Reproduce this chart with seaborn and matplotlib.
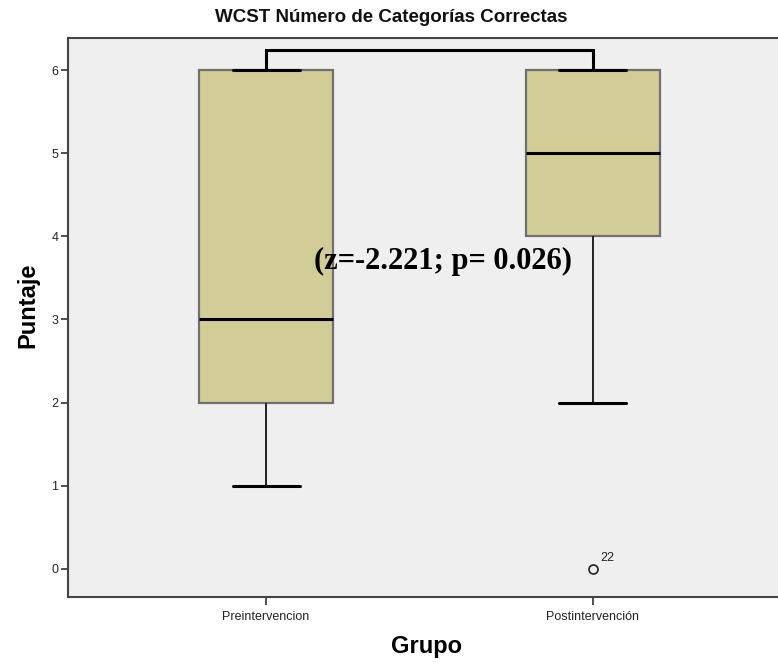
import matplotlib
matplotlib.use("Agg")
import matplotlib.pyplot as plt
import seaborn as sns
import pandas as pd

# Data (raw scores reproducing the box statistics)
groups = ["Preintervencion", "Postintervención"]
pre_scores = [1, 1, 2, 2, 2, 3, 3, 3, 4, 5, 6, 6, 6, 6, 6]
post_scores = [0, 2, 3, 4, 4, 4, 5, 5, 5, 5, 6, 6, 6, 6, 6]
outlier_label = "22"
yticks = [0, 1, 2, 3, 4, 5, 6]
title = "WCST Número de Categorías Correctas"
stat_text = "(z=-2.221; p= 0.026)"

df = pd.DataFrame({
    "Grupo": [groups[0]] * len(pre_scores) + [groups[1]] * len(post_scores),
    "Puntaje": pre_scores + post_scores,
})

sns.set_theme(style="white")
plt.rcParams["font.family"] = ["Liberation Sans", "DejaVu Sans"]

fig = plt.figure(figsize=(7.78, 6.64), dpi=100)
ax = fig.add_axes([68 / 778, 1 - 597 / 664, 1 - 68 / 778 + 0.01, (597 - 38) / 664])
ax.set_facecolor("#EFEFEF")

sns.boxplot(
    data=df, x="Grupo", y="Puntaje", order=groups, ax=ax,
    width=0.41, color="#D2CD96", saturation=1, whis=1.5,
    linecolor="#222222", linewidth=1.2,
    medianprops=dict(color="black", linewidth=2.2),
    whiskerprops=dict(color="#222222", linewidth=1.4),
    capprops=dict(color="black", linewidth=2.2),
    boxprops=dict(edgecolor="#707070", linewidth=1.6),
    flierprops=dict(marker="o", markersize=6.5, markerfacecolor="none",
                    markeredgecolor="#222222", markeredgewidth=1.2),
)

ax.set_xlim(-0.606, 1.566 + 0.01 * 778 / 327)
ax.set_ylim(-0.337, 6.385)
ax.set_yticks(yticks)
ax.set_yticklabels([str(t) for t in yticks])

# Outlier case label
ax.annotate(outlier_label, xy=(1, min(post_scores)), xytext=(5, 6),
            textcoords="offset points", fontsize=9, color="#222222")

# Significance bracket
top = max(max(pre_scores), max(post_scores))
ax.plot([0, 0, 1, 1], [top, top + 0.24, top + 0.24, top], color="black",
        linewidth=2.2, solid_joinstyle="miter", zorder=5)
ax.text(0.54, 3.70, stat_text, ha="center", va="center", fontsize=22,
        fontweight="bold", color="black",
        family=["Liberation Serif", "DejaVu Serif"], zorder=6)

# Axes styling
for side in ["left", "bottom", "top"]:
    ax.spines[side].set_visible(True)
    ax.spines[side].set_color("#444444")
    ax.spines[side].set_linewidth(1.5)
ax.spines["right"].set_visible(False)
ax.tick_params(axis="both", which="major", direction="out", length=5,
               width=1.2, color="#333333", labelsize=9, labelcolor="#222222",
               left=True, bottom=True, pad=2)
ax.tick_params(axis="x", length=6, pad=4)

ax.set_xlabel("Grupo", fontsize=17, fontweight="bold", color="black")
ax.set_ylabel("Puntaje", fontsize=17, fontweight="bold", color="black")
ax.yaxis.set_label_coords(-0.04, 0.522)
ax.xaxis.set_label_coords(0.5, -0.068)

fig.suptitle(title, x=0.503, y=1 - 18 / 664, va="center", fontsize=13.5,
             fontweight="bold", color="#111111")

fig.savefig("out.png", dpi=100)
